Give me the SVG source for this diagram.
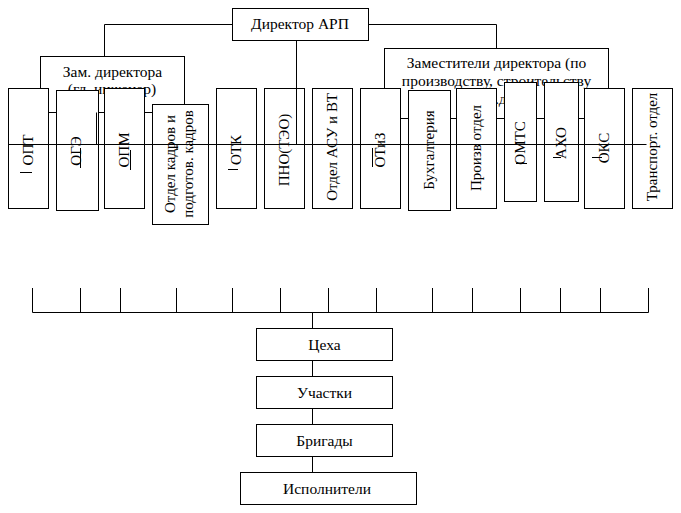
<svg xmlns="http://www.w3.org/2000/svg" width="681" height="513" viewBox="0 0 681 513">
<style>
rect{fill:#fff;stroke:#000;stroke-width:1}
text{font-family:"Liberation Serif","Times New Roman",serif;font-size:15px;fill:#000}
.h{text-anchor:middle;font-size:15.5px}
.v{text-anchor:middle}
.c line,.c polyline,.m line{stroke:#000;stroke-width:1;fill:none}
</style>
<rect x="0" y="0" width="681" height="513" style="fill:#fff;stroke:none"/>
<g id="director"><rect x="232.5" y="8.5" width="136" height="32"/><text class="h" x="300" y="29">Директор АРП</text></g>
<g id="zam-left"><rect x="40.5" y="56.5" width="144" height="56"/><text class="h" x="112.5" y="77">Зам. директора</text><text class="h" x="112" y="94">(гл. инженер)</text></g>
<g id="zam-right"><rect x="384.5" y="48.5" width="224" height="70"/><text class="h" x="496.5" y="68">Заместители директора (по</text><text class="h" x="496.5" y="86">производству, строительству</text><text class="h" x="496.5" y="104">и т.д.)</text></g>
<g id="opt"><rect x="8.5" y="88.5" width="40" height="120"/><text class="v" transform="translate(28.5,150) rotate(-90)" y="4.5">ОПТ</text></g>
<g id="oge"><rect x="56.5" y="90.5" width="42" height="120"/><text class="v" transform="translate(77.5,151) rotate(-90)" y="3">ОГЭ</text></g>
<g id="opm"><rect x="104.5" y="88.5" width="40" height="120"/><text class="v" transform="translate(124.5,150) rotate(-90)" y="4.5">ОПМ</text></g>
<g id="kadry"><rect x="152.5" y="104.5" width="56" height="120"/><text class="v" transform="translate(175,164) rotate(-90)">Отдел кадров и</text><text class="v" transform="translate(193,164) rotate(-90)">подготов. кадров</text></g>
<g id="otk"><rect x="216.5" y="88.5" width="40" height="120"/><text class="v" transform="translate(236.5,150) rotate(-90)" y="4.5">ОТК</text></g>
<g id="pno"><rect x="264.5" y="88.5" width="40" height="120"/><text class="v" transform="translate(284.5,150) rotate(-90)" y="4.5">ПНО(ТЭО)</text></g>
<g id="asu"><rect x="312.5" y="88.5" width="40" height="120"/><text class="v" transform="translate(332.5,147) rotate(-90)" y="4.5">Отдел АСУ и ВТ</text></g>
<g id="otiz"><rect x="360.5" y="88.5" width="40" height="120"/><text class="v" transform="translate(380.5,150) rotate(-90)" y="4.5">ОТиЗ</text></g>
<g id="buh"><rect x="408.5" y="90.5" width="42" height="120"/><text class="v" transform="translate(429.5,150) rotate(-90)" y="4.5">Бухгалтерия</text></g>
<g id="proizv"><rect x="456.5" y="88.5" width="40" height="120"/><text class="v" transform="translate(476.5,148) rotate(-90)" y="4.5">Произв отдел</text></g>
<g id="omts"><rect x="504.5" y="82.5" width="32" height="119"/><text class="v" transform="translate(520.5,143) rotate(-90)" y="4.5">ОМТС</text></g>
<g id="aho"><rect x="544.5" y="82.5" width="34" height="119"/><text class="v" transform="translate(561.5,143) rotate(-90)" y="4.5">АХО</text></g>
<g id="oks"><rect x="584.5" y="88.5" width="40" height="120"/><text class="v" transform="translate(604.5,148) rotate(-90)" y="4.5">ОКС</text></g>
<g id="transport"><rect x="632.5" y="88.5" width="40" height="120"/><text class="v" transform="translate(652.5,147) rotate(-90)" y="4.5">Транспорт. отдел</text></g>
<g id="ceha"><rect x="256.5" y="328.5" width="136" height="32"/><text class="h" x="324.5" y="350">Цеха</text></g>
<g id="uchastki"><rect x="256.5" y="376.5" width="136" height="32"/><text class="h" x="324.5" y="398">Участки</text></g>
<g id="brigady"><rect x="256.5" y="424.5" width="136" height="32"/><text class="h" x="324.5" y="446">Бригады</text></g>
<g id="ispolniteli"><rect x="240.5" y="472.5" width="176" height="32"/><text class="h" x="327" y="494">Исполнители</text></g>
<g id="marks" class="m">
<line x1="20" y1="172.5" x2="32" y2="172.5"/>
<line x1="228" y1="169.5" x2="238" y2="169.5"/>
<line x1="80.5" y1="148" x2="80.5" y2="168"/>
<line x1="130.5" y1="150" x2="130.5" y2="170"/>
<line x1="372.5" y1="148" x2="372.5" y2="167"/>
<line x1="516" y1="163.5" x2="527" y2="163.5"/>
<line x1="553" y1="157.5" x2="561" y2="157.5"/>
<line x1="592" y1="157.5" x2="602" y2="157.5"/>
</g>
<g id="connectors" class="c">
<polyline points="232.5,24.5 104.5,24.5 104.5,56.5"/>
<polyline points="368.5,24.5 496.5,24.5 496.5,48.5"/>
<line x1="296.5" y1="40.5" x2="296.5" y2="144.5"/>
<line x1="8.5" y1="144.5" x2="646.5" y2="144.5"/>
<line x1="96.5" y1="112.5" x2="96.5" y2="144.5"/>
<line x1="177" y1="144.5" x2="177" y2="150"/>
<line x1="32.5" y1="312.5" x2="648.5" y2="312.5"/>
<line x1="32.5" y1="288" x2="32.5" y2="312.5"/>
<line x1="80.5" y1="288" x2="80.5" y2="312.5"/>
<line x1="120.5" y1="288" x2="120.5" y2="312.5"/>
<line x1="176.5" y1="288" x2="176.5" y2="312.5"/>
<line x1="232.5" y1="288" x2="232.5" y2="312.5"/>
<line x1="280.5" y1="288" x2="280.5" y2="312.5"/>
<line x1="328.5" y1="288" x2="328.5" y2="312.5"/>
<line x1="376.5" y1="288" x2="376.5" y2="312.5"/>
<line x1="432.5" y1="288" x2="432.5" y2="312.5"/>
<line x1="472.5" y1="288" x2="472.5" y2="312.5"/>
<line x1="520.5" y1="288" x2="520.5" y2="312.5"/>
<line x1="560.5" y1="288" x2="560.5" y2="312.5"/>
<line x1="600.5" y1="288" x2="600.5" y2="312.5"/>
<line x1="648.5" y1="288" x2="648.5" y2="312.5"/>
<line x1="312.5" y1="312.5" x2="312.5" y2="328.5"/>
<line x1="312.5" y1="360.5" x2="312.5" y2="376.5"/>
<line x1="312.5" y1="408.5" x2="312.5" y2="424.5"/>
<line x1="312.5" y1="456.5" x2="312.5" y2="472.5"/>
</g>
</svg>
